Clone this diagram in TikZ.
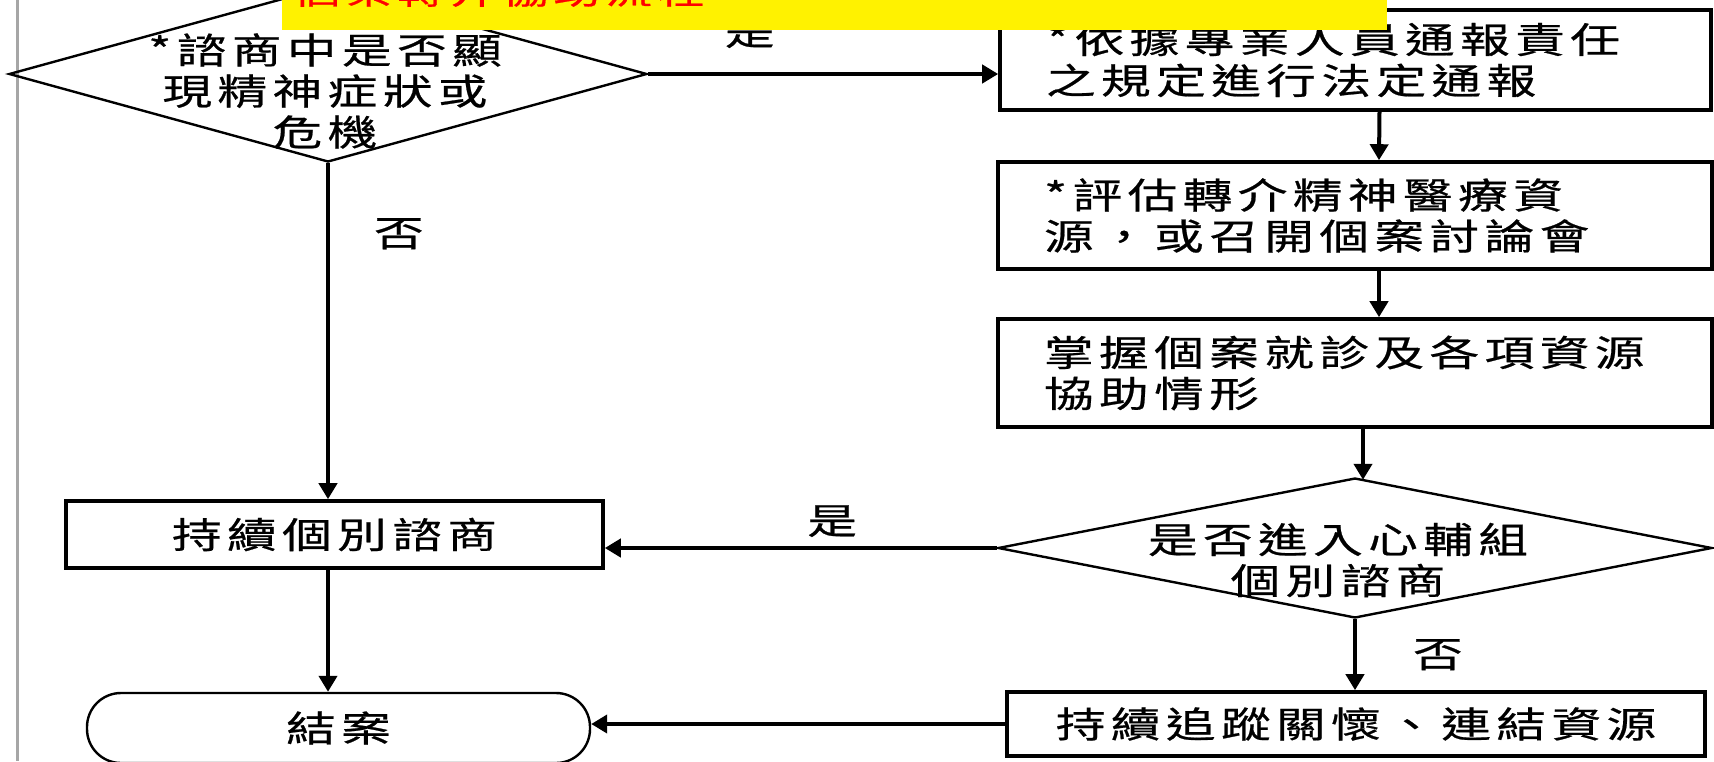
\documentclass[tikz,border=0pt]{standalone}
\usepackage{fontspec}
\newfontfamily\cjk[FakeStretch=1.38,LetterSpace=15,FakeBold=0.6]{Noto Sans CJK TC}
\usetikzlibrary{arrows.meta, positioning, shapes.geometric}

\begin{document}
\begin{tikzpicture}[
  x=0.5pt, y=-0.5pt,
  txt/.style={font=\cjk\fontsize{18}{20.5}\selectfont, inner sep=0pt},
  procbox/.style={txt, rectangle, draw=black, line width=1.8pt, inner xsep=23pt, inner ysep=0pt},
  decision/.style={diamond, draw=black, line width=1.2pt, inner sep=0pt},
  terminal/.style={txt, rectangle, rounded corners=17pt, draw=black, line width=1.2pt},
  arr/.style={-{Triangle[length=8pt, width=9pt]}, line width=2pt},
  yn/.style={txt}
]
  \useasboundingbox (0,0) rectangle (1714,761);

  % frame
  \draw[gray!70, line width=1.5pt] (17,0) -- (17,761);

  % decisions
  \node[decision, minimum width=319pt, minimum height=88pt] (d1) at (328,74) {};
  \node[txt, align=center] (d1t) at (325,91) {*諮商中是否顯\\現精神症狀或\\危機};
  \node[decision, minimum width=357pt, minimum height=70pt] (d2) at (1355,548) {};
  \node[txt, align=center] (d2t) at (1338,560) {是否進入心輔組\\個別諮商};

  % right column
  \node[procbox, text width=309.5pt, minimum height=50pt, align=left] (b1) at (1355.5,60)
    {*依據專業人員通報責任\\之規定進行法定通報};
  \node[procbox, text width=311pt, minimum height=53.5pt, align=left] (b2) at (1355,215.5)
    {*評估轉介精神醫療資\\源，或召開個案討論會};
  \node[procbox, text width=311pt, minimum height=54pt, align=left] (b3) at (1355,373)
    {掌握個案就診及各項資源\\協助情形};
  \node[procbox, inner xsep=0pt, minimum width=349pt, minimum height=32pt] (b5) at (1356,724)
    {持續追蹤關懷、連結資源};

  % left column
  \node[procbox, inner xsep=0pt, minimum width=268.5pt, minimum height=33.5pt] (b4) at (334.5,534.5)
    {持續個別諮商};
  \node[terminal, minimum width=251.5pt, minimum height=35pt] (end) at (338.5,728) {結案};

  % connectors
  \draw[arr] (d1.east) -- (d1.east -| b1.west) node[yn, pos=0.29, above=12pt] {是};
  \draw[arr] ([xshift=12pt]b1.south) -- ([xshift=12pt]b2.north);
  \draw[arr] ([xshift=12pt]b2.south) -- ([xshift=12pt]b3.north);
  \draw[arr] ([xshift=4pt]b3.south) -- ([xshift=4pt,yshift=-1.5pt]d2.north);
  \draw[arr] (d2.south) -- (d2.south |- b5.north) node[yn, midway, right=28pt] {否};
  \draw[arr] (d2.west) -- (d2.west -| b4.east) node[yn, pos=0.42, above=4.5pt] {是};
  \draw[arr] (d1.south) -- (d1.south |- b4.north) node[yn, pos=0.21, right=22pt] {否};
  \draw[arr] (b4.south -| d1.south) -- (end.north -| d1.south);
  \draw[arr] (b5.west) -- (b5.west -| end.east);

  % title strip, cut off at the top
  \fill[yellow] (282,-20) rectangle (1387,30);
  \begin{scope}
    \clip (282,0) rectangle (1387,30);
    \node[anchor=base west, text=red, font=\cjk\fontsize{17}{17}\selectfont, inner sep=0pt] (title) at (293,4)
      {個案轉介協助流程};
  \end{scope}
\end{tikzpicture}
\end{document}
